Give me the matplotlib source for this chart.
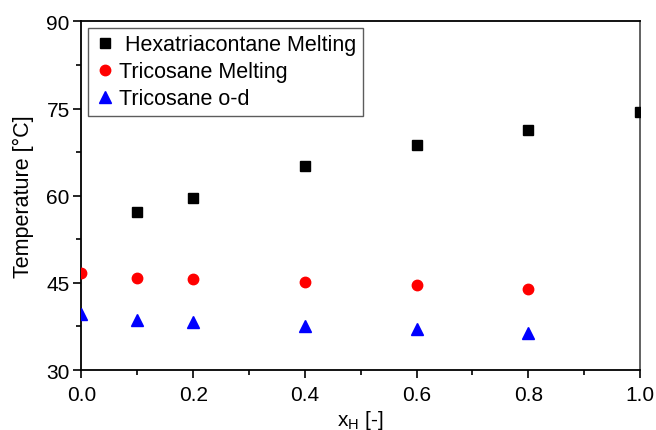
import matplotlib
matplotlib.use("Agg")
import matplotlib.pyplot as plt
from matplotlib.ticker import MultipleLocator, FormatStrFormatter

plt.rcParams['font.family'] = ['Liberation Sans', 'DejaVu Sans']
plt.rcParams['mathtext.default'] = 'regular'

# Mole fraction of hexatriacontane
x_hexa = [0.1, 0.2, 0.4, 0.6, 0.8, 1.0]
t_hexa_melt = [57.2, 59.6, 65.2, 68.8, 71.3, 74.4]

x_tric = [0.0, 0.1, 0.2, 0.4, 0.6, 0.8]
t_tric_melt = [46.7, 45.8, 45.7, 45.2, 44.6, 44.0]
t_tric_od = [39.7, 38.6, 38.3, 37.6, 37.1, 36.3]

fig = plt.figure(figsize=(6.56, 4.31), dpi=100)
ax = fig.add_axes([0.1242, 0.1392, 0.8514, 0.8086])

ax.plot(x_hexa, t_hexa_melt, 's', color='black', ms=7, ls='none',
        label=' Hexatriacontane Melting', zorder=3)
ax.plot(x_tric, t_tric_melt, 'o', color='red', ms=7.5, ls='none',
        label='Tricosane Melting', zorder=3)
ax.plot(x_tric, t_tric_od, '^', color='blue', ms=8, ls='none',
        label='Tricosane o-d', zorder=3)

ax.set_xlim(0.0, 1.0)
ax.set_ylim(30, 90)
ax.xaxis.set_major_locator(MultipleLocator(0.2))
ax.xaxis.set_minor_locator(MultipleLocator(0.1))
ax.yaxis.set_major_locator(MultipleLocator(15))
ax.yaxis.set_minor_locator(MultipleLocator(7.5))
ax.xaxis.set_major_formatter(FormatStrFormatter('%.1f'))

ax.tick_params(axis='both', which='major', direction='out', length=6,
               width=1.2, labelsize=15, colors='black', pad=2.5)
ax.tick_params(axis='x', which='major', pad=5)
ax.tick_params(axis='both', which='minor', direction='out', length=3.5,
               width=1.2)
ax.tick_params(top=False, right=False, which='both')

for side in ('left', 'bottom', 'top'):
    ax.spines[side].set_linewidth(1.3)
    ax.spines[side].set_color('black')
ax.spines['right'].set_linewidth(1.3)
ax.spines['right'].set_color('#555555')

ax.set_xlabel(r'x$_{H}$ [-]', fontsize=15, labelpad=3)
ax.set_ylabel('Temperature [°C]', fontsize=15.5, labelpad=9)

leg = ax.legend(loc='upper left', bbox_to_anchor=(0.0, 1.0), fontsize=15.5,
                frameon=True, fancybox=False, edgecolor='#333333',
                handletextpad=0.15, borderpad=0.3, labelspacing=0.28,
                handlelength=1.0, borderaxespad=0.3)
leg.get_frame().set_linewidth(1.0)

fig.savefig('out.png', dpi=100)
